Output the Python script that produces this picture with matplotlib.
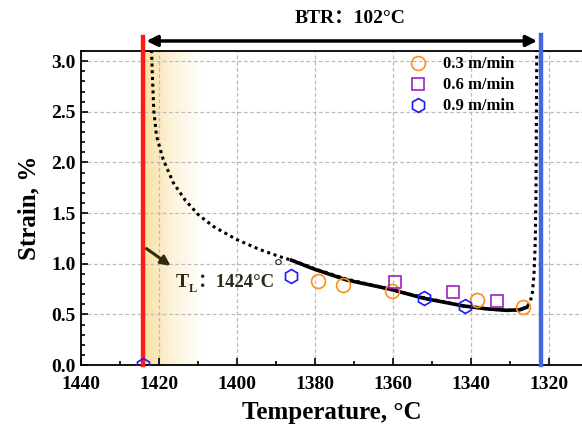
import numpy as np
import matplotlib.pyplot as plt
from matplotlib.ticker import MultipleLocator
from matplotlib.colors import LinearSegmentedColormap

plt.rcParams['font.family'] = ['Liberation Serif', 'Noto Sans CJK SC', 'DejaVu Serif']
plt.rcParams['font.weight'] = 'bold'

# data
T_03 = [1379.1, 1372.7, 1360.3, 1338.5, 1326.6]
s_03 = [0.83, 0.79, 0.735, 0.645, 0.57]
T_06 = [1359.5, 1344.7, 1333.3]
s_06 = [0.815, 0.725, 0.63]
T_09 = [1424.0, 1386.0, 1352.0, 1341.5]
s_09 = [0.0, 0.88, 0.66, 0.585]

# dotted envelope curve
T_curve = [1421.9, 1421.6, 1421.3, 1420.6, 1418.9, 1416.3, 1413.3, 1409.9, 1406.1,
           1400.1, 1394.1, 1389.0, 1384.7, 1380.0, 1372.0, 1361.0, 1352.0, 1342.0,
           1336.0, 1331.0, 1327.5, 1325.7, 1324.8, 1324.2, 1323.8, 1323.5, 1323.3,
           1323.2, 1323.1]
s_curve = [3.11, 2.79, 2.51, 2.26, 2.03, 1.80, 1.63, 1.485, 1.37,
           1.24, 1.14, 1.07, 1.02, 0.95, 0.85, 0.75, 0.665, 0.585,
           0.555, 0.54, 0.545, 0.57, 0.62, 0.72, 0.90, 1.20, 1.70,
           2.40, 3.11]
# solid fit line
T_fit = [1386.0, 1380.4, 1371.9, 1360.8, 1352.2, 1342.0, 1336.0, 1330.8, 1327.5, 1325.7]
s_fit = [1.035, 0.95, 0.84, 0.75, 0.66, 0.584, 0.555, 0.54, 0.545, 0.57]

T_L = 1424
T_S = 1322

fig = plt.figure(figsize=(5.82, 4.33), dpi=100)
ax = fig.add_axes([0.139, 0.157, 0.861, 0.725])
ax.set_xlim(1440, 1311.5)
ax.set_ylim(0, 3.1)

# yellow shaded zone next to the liquidus
cmap = LinearSegmentedColormap.from_list('y', ['#f8e0a0', '#fdf3da', '#ffffff'])
grad = np.linspace(0, 1, 256).reshape(1, -1)
ax.imshow(grad, cmap=cmap, aspect='auto', extent=[T_L, 1409, 0, 3.1], zorder=0)

ax.grid(True, which='major', ls=(0, (3, 2)), color='#bbbbbb', lw=0.9, zorder=1)

ax.plot(T_curve, s_curve, ls=(0, (1, 1.2)), color='black', lw=2.2, zorder=3)
ax.plot(T_fit, s_fit, '-', color='black', lw=2.6, zorder=3)

ax.plot([T_L, T_L], [0, 3.24], color='#ff1a1a', lw=3.2, clip_on=False, zorder=4)
ax.plot([T_S, T_S], [0, 3.26], color='#4468dd', lw=3.2, clip_on=False, zorder=4)

ax.plot(T_03, s_03, 'o', mfc='none', mec='#ff8c1a', ms=10, mew=1.2, ls='none',
        label='0.3 m/min', zorder=5)
ax.plot(T_06, s_06, 's', mfc='none', mec='#a020c0', ms=9, mew=1.2, ls='none',
        label='0.6 m/min', zorder=5)
ax.plot(T_09, s_09, 'h', mfc='none', mec='#1a1aff', ms=10, mew=1.2, ls='none',
        label='0.9 m/min', zorder=5, clip_on=True)

# BTR arrow
ax.annotate('', xy=(1323.0, 3.2), xytext=(1423.2, 3.2), annotation_clip=False,
            arrowprops=dict(arrowstyle='<|-|>', color='black', lw=2.5, mutation_scale=16,
                            shrinkA=0, shrinkB=0))
ax.text(1371, 3.42, 'BTR：102°C', ha='center', va='center', fontsize=14,
        fontweight='bold')

# liquidus label
tl_col = '#2a2a1a'
ax.annotate('', xy=(1417, 0.98), xytext=(1423.2, 1.15),
            arrowprops=dict(arrowstyle='-|>', color='#302c14', lw=2.2, mutation_scale=14,
                            shrinkA=0, shrinkB=0))
ax.annotate('T', xy=(1415.8, 0.81), xytext=(0, 0), textcoords='offset points',
            ha='left', va='center', fontsize=14, fontweight='bold', color=tl_col)
ax.annotate('L', xy=(1415.8, 0.81), xytext=(10.0, -4), textcoords='offset points',
            ha='left', va='center', fontsize=9, fontweight='bold', color=tl_col)
ax.annotate('：1424°C', xy=(1415.8, 0.81), xytext=(15.5, 0), textcoords='offset points',
            ha='left', va='center', fontsize=13.5, fontweight='bold', color=tl_col)
ax.text(1389.3, 0.95, '°', ha='center', va='center', fontsize=16, color=tl_col)

leg = ax.legend(loc='upper left', bbox_to_anchor=(0.63, 1.015), frameon=False,
                fontsize=12, handlelength=1.4, handletextpad=0.8, labelspacing=0.3,
                borderaxespad=0.2)
for t in leg.get_texts():
    t.set_fontweight('bold')

ax.xaxis.set_major_locator(MultipleLocator(20))
ax.xaxis.set_minor_locator(MultipleLocator(10))
ax.yaxis.set_major_locator(MultipleLocator(0.5))
ax.yaxis.set_minor_locator(MultipleLocator(0.1))
ax.tick_params(which='both', direction='in', top=False, right=False, labelsize=14,
               width=1.2)
ax.tick_params(which='major', length=5)
ax.tick_params(which='minor', length=3)
ax.tick_params(axis='x', which='major', pad=8)
for lab in ax.get_xticklabels() + ax.get_yticklabels():
    lab.set_fontweight('bold')
ax.set_xticks([1440, 1420, 1400, 1380, 1360, 1340, 1320])
ax.set_yticks([0.0, 0.5, 1.0, 1.5, 2.0, 2.5, 3.0])
ax.set_yticklabels(['0.0', '0.5', '1.0', '1.5', '2.0', '2.5', '3.0'])

ax.spines['right'].set_visible(False)
for sp in ['left', 'bottom', 'top']:
    ax.spines[sp].set_linewidth(1.3)

ax.set_xlabel('Temperature, °C', fontsize=18, fontweight='bold', labelpad=6)
ax.set_ylabel('Strain, %', fontsize=18, fontweight='bold', labelpad=8)

fig.savefig('out.png', dpi=100)
